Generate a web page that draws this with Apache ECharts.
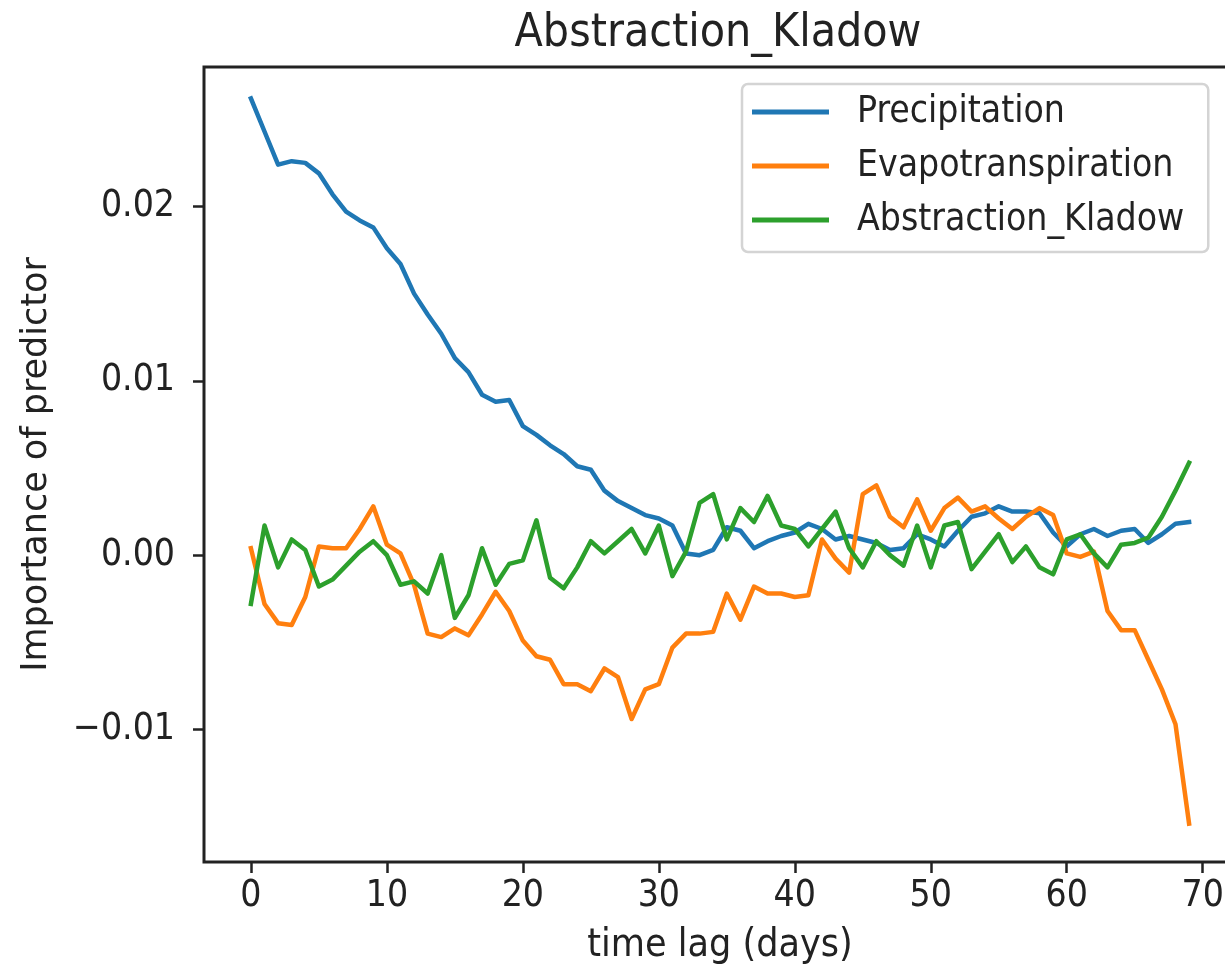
<!DOCTYPE html>
<html>
<head>
<meta charset="utf-8">
<script src="https://cdn.jsdelivr.net/npm/echarts@6/dist/echarts.min.js"></script>
<style>
  html, body { margin: 0; padding: 0; background: #fff; }
  #chart { width: 1225px; height: 970px; }
</style>
</head>
<body>
<div id="chart"></div>
<script>
// ---- data ----
const lags = Array.from({length: 70}, (_, i) => i);

const precipitation = [
  0.0262, 0.0243, 0.0224, 0.0226, 0.0225, 0.0219, 0.0207, 0.0197, 0.0192, 0.0188,
  0.0176, 0.0167, 0.0150, 0.0138, 0.0127, 0.0113, 0.0105, 0.0092, 0.0088, 0.0089,
  0.0074, 0.0069, 0.0063, 0.0058, 0.0051, 0.0049, 0.0037, 0.0031, 0.0027, 0.0023,
  0.0021, 0.0017, 0.0001, 0.0000, 0.0003, 0.0016, 0.0014, 0.0004, 0.0008, 0.0011,
  0.0013, 0.0018, 0.0015, 0.0009, 0.0011, 0.0009, 0.0007, 0.0003, 0.0004, 0.0012,
  0.0009, 0.0005, 0.0014, 0.0022, 0.0024, 0.0028, 0.0025, 0.0025, 0.0024, 0.0013,
  0.0005, 0.0012, 0.0015, 0.0011, 0.0014, 0.0015, 0.0007, 0.0012, 0.0018, 0.0019
];

const evapotranspiration = [
  0.0004, -0.0028, -0.0039, -0.0040, -0.0024, 0.0005, 0.0004, 0.0004, 0.0015, 0.0028,
  0.0006, 0.0001, -0.0017, -0.0045, -0.0047, -0.0042, -0.0046, -0.0034, -0.0021, -0.0032,
  -0.0049, -0.0058, -0.0060, -0.0074, -0.0074, -0.0078, -0.0065, -0.0070, -0.0094, -0.0077,
  -0.0074, -0.0053, -0.0045, -0.0045, -0.0044, -0.0022, -0.0037, -0.0018, -0.0022, -0.0022,
  -0.0024, -0.0023, 0.0009, -0.0002, -0.0010, 0.0035, 0.0040, 0.0022, 0.0016, 0.0032,
  0.0014, 0.0027, 0.0033, 0.0025, 0.0028, 0.0021, 0.0015, 0.0022, 0.0027, 0.0023,
  0.0001, -0.0001, 0.0002, -0.0032, -0.0043, -0.0043, -0.0060, -0.0077, -0.0097, -0.0154
];

const abstractionKladow = [
  -0.0028, 0.0017, -0.0007, 0.0009, 0.0003, -0.0018, -0.0014, -0.0006, 0.0002, 0.0008,
  0.0000, -0.0017, -0.0015, -0.0022, 0.0000, -0.0036, -0.0023, 0.0004, -0.0017, -0.0005,
  -0.0003, 0.0020, -0.0013, -0.0019, -0.0007, 0.0008, 0.0001, 0.0008, 0.0015, 0.0001,
  0.0017, -0.0012, 0.0002, 0.0030, 0.0035, 0.0009, 0.0027, 0.0019, 0.0034, 0.0017,
  0.0015, 0.0005, 0.0015, 0.0025, 0.0004, -0.0007, 0.0008, 0.0000, -0.0006, 0.0017,
  -0.0007, 0.0017, 0.0019, -0.0008, 0.0002, 0.0012, -0.0004, 0.0005, -0.0007, -0.0011,
  0.0009, 0.0012, 0.0001, -0.0007, 0.0006, 0.0007, 0.0010, 0.0022, 0.0037, 0.0053
];

const seriesNames = ['Precipitation', 'Evapotranspiration', 'Abstraction_Kladow'];
const seriesColors = ['#1f77b4', '#ff7f0e', '#2ca02c'];
const xTicks = [0, 10, 20, 30, 40, 50, 60, 70];
const yTicks = [-0.01, 0, 0.01, 0.02];

const titleText = 'Abstraction_Kladow';
const xLabel = 'time lag (days)';
const yLabel = 'Importance of predictor';

// ---- chart ----
const FONT_C = '"DejaVu Sans Condensed", "DejaVu Sans", sans-serif';
const FONT = '"DejaVu Sans", sans-serif';
const INK = '#222';

const allValues = [precipitation, evapotranspiration, abstractionKladow];
const series = allValues.map((vals, k) => ({
  name: seriesNames[k],
  type: 'line',
  data: lags.map((x, i) => [x, vals[i]]),
  showSymbol: false,
  symbol: 'none',
  color: seriesColors[k],
  lineStyle: { width: 4.5, color: seriesColors[k], cap: 'square', join: 'round' },
  itemStyle: { color: seriesColors[k] },
  emphasis: { disabled: true },
  animation: false
}));

const chart = echarts.init(document.getElementById('chart'), null, { renderer: 'canvas' });
chart.setOption({
  animation: false,
  backgroundColor: '#fff',
  title: {
    text: titleText,
    left: 713,
    textAlign: 'center',
    top: 6,
    textStyle: { fontFamily: FONT_C, fontSize: 46, fontWeight: 'normal', color: INK }
  },
  legend: {
    orient: 'vertical',
    left: 742,
    top: 84,
    data: seriesNames,
    icon: 'rect',
    itemWidth: 77,
    itemHeight: 5,
    itemGap: 14,
    padding: [8, 24, 12, 10],
    backgroundColor: '#fff',
    borderColor: '#d4d4d4',
    borderWidth: 2.5,
    borderRadius: 6,
    selectedMode: false,
    textStyle: { fontFamily: FONT_C, fontSize: 37, color: INK, lineHeight: 40, padding: [0, 0, 0, 23] }
  },
  grid: {
    left: 204, top: 67, width: 1032, height: 795,
    show: true, borderColor: INK, borderWidth: 3,
    containLabel: false, outerBoundsMode: 'none'
  },
  xAxis: {
    type: 'value',
    min: -3.45, max: 72.45,
    name: xLabel,
    nameLocation: 'middle',
    nameGap: 64,
    nameTextStyle: { fontFamily: FONT_C, fontSize: 39, color: INK },
    axisLine: { show: false, onZero: false },
    splitLine: { show: false },
    axisTick: { show: true, customValues: xTicks, length: 11, inside: false, lineStyle: { color: INK, width: 2.5 } },
    axisLabel: { customValues: xTicks, margin: 16, fontFamily: FONT_C, fontSize: 37, color: INK,
      formatter: v => String(Math.round(v)) }
  },
  yAxis: {
    type: 'value',
    min: -0.0176, max: 0.0280,
    name: yLabel,
    nameLocation: 'middle',
    nameRotate: 90,
    nameGap: 150,
    nameTextStyle: { fontFamily: FONT, fontSize: 35, color: INK },
    axisLine: { show: false, onZero: false },
    splitLine: { show: false },
    axisTick: { show: true, customValues: yTicks, length: 11, inside: false, lineStyle: { color: INK, width: 2.5 } },
    axisLabel: { customValues: yTicks, margin: 29, fontFamily: FONT_C, fontSize: 37, color: INK,
      formatter: v => (v < -1e-9 ? '\u2212' : '') + Math.abs(v).toFixed(2) }
  },
  series: series
});
</script>
</body>
</html>
